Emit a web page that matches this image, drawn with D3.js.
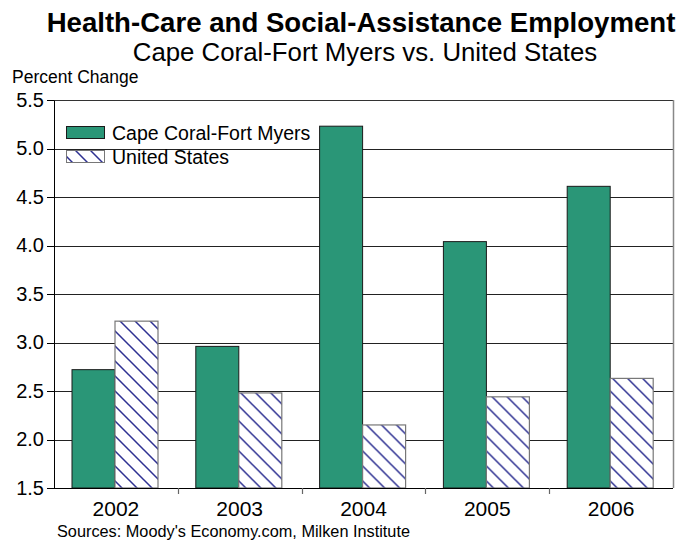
<!DOCTYPE html>
<html>
<head>
<meta charset="utf-8">
<script src="https://cdn.jsdelivr.net/npm/d3@7"></script>
<style>
  html, body { margin: 0; padding: 0; background: #fff; }
  svg { display: block; font-family: "Liberation Sans", Arial, sans-serif; }
</style>
</head>
<body>
<svg id="chart" width="678" height="541"></svg>
<script>
// Annual percent change in health-care and social-assistance employment
const years = ["2002", "2003", "2004", "2005", "2006"];
const capeCoral = [2.72, 2.96, 5.23, 4.04, 4.61];
const unitedStates = [3.22, 2.48, 2.15, 2.44, 2.63];
const seriesNames = ["Cape Coral-Fort Myers", "United States"];
const yTicks = [1.5, 2.0, 2.5, 3.0, 3.5, 4.0, 4.5, 5.0, 5.5];

const svg = d3.select("#chart");
const margin = { left: 54, right: 5, top: 100, bottom: 53 };
const W = 678, H = 541;

const x0 = d3.scaleBand().domain(years).range([margin.left, W - margin.right]).padding(0);
// two bars side by side, centred in each year's band
const x1 = d3.scaleBand().domain(seriesNames).range([18, 18 + 86]).padding(0);
const y = d3.scaleLinear().domain([1.5, 5.5]).range([H - margin.bottom, margin.top]);

// Diagonal hatch pattern for the national series
const defs = svg.append("defs");
const pat = defs.append("pattern")
  .attr("id", "hatch").attr("patternUnits", "userSpaceOnUse")
  .attr("width", 15).attr("height", 15);
pat.append("rect").attr("width", 15).attr("height", 15).attr("fill", "#fff");
pat.append("path")
  .attr("d", "M-4,-4 L19,19 M11,-4 L19,4 M-4,11 L4,19")
  .attr("stroke", "#2e3192").attr("stroke-width", 1.5).attr("fill", "none");

// Title block
svg.append("text").attr("x", 361).attr("y", 32).attr("text-anchor", "middle")
  .attr("font-size", 27.6).attr("font-weight", "bold").attr("fill", "#000")
  .text("Health-Care and Social-Assistance Employment");
svg.append("text").attr("x", 365).attr("y", 61).attr("text-anchor", "middle")
  .attr("font-size", 25.8).attr("fill", "#000")
  .text("Cape Coral-Fort Myers vs. United States");
svg.append("text").attr("x", 12).attr("y", 83).attr("font-size", 17.5).attr("fill", "#000")
  .text("Percent Change");

// Horizontal gridlines
svg.append("g").selectAll("line").data(yTicks.slice(1, -1)).join("line")
  .attr("x1", margin.left).attr("x2", W - margin.right)
  .attr("y1", d => Math.round(y(d)) + 0.5).attr("y2", d => Math.round(y(d)) + 0.5)
  .attr("stroke", "#222").attr("stroke-width", 1);

// Plot frame: top and right
svg.append("line").attr("x1", margin.left).attr("x2", W - margin.right)
  .attr("y1", margin.top + 0.5).attr("y2", margin.top + 0.5).attr("stroke", "#333");
svg.append("line").attr("x1", W - margin.right + 0.5).attr("x2", W - margin.right + 0.5)
  .attr("y1", margin.top).attr("y2", H - margin.bottom).attr("stroke", "#888").attr("stroke-width", 1.5);

// Bars
const groups = svg.append("g").selectAll("g").data(years).join("g")
  .attr("transform", d => `translate(${x0(d)},0)`);
groups.append("rect")
  .attr("x", x1(seriesNames[0])).attr("width", x1.bandwidth())
  .attr("y", (d, i) => y(capeCoral[i])).attr("height", (d, i) => y(1.5) - y(capeCoral[i]))
  .attr("fill", "#2a9677").attr("stroke", "#1a1a1a").attr("stroke-width", 1);
groups.append("rect")
  .attr("x", x1(seriesNames[1])).attr("width", x1.bandwidth())
  .attr("y", (d, i) => y(unitedStates[i])).attr("height", (d, i) => y(1.5) - y(unitedStates[i]))
  .attr("fill", "url(#hatch)").attr("stroke", "#777").attr("stroke-width", 1.2);

// Y axis
const yAxis = svg.append("g").attr("transform", `translate(${margin.left},0)`)
  .call(d3.axisLeft(y).tickValues(yTicks).tickFormat(d3.format(".1f")).tickSize(0).tickPadding(10));
yAxis.select(".domain").attr("stroke", "#000");
yAxis.selectAll("text").attr("font-size", 20).attr("fill", "#000")
  .attr("font-family", "Liberation Sans, Arial, sans-serif");
yAxis.selectAll(".tick line").remove();
svg.append("g").selectAll("line").data(yTicks).join("line")
  .attr("x1", margin.left - 7).attr("x2", margin.left)
  .attr("y1", d => Math.round(y(d)) + 0.5).attr("y2", d => Math.round(y(d)) + 0.5)
  .attr("stroke", "#000");

// X axis with ticks at category boundaries
svg.append("line").attr("x1", margin.left).attr("x2", W - margin.right)
  .attr("y1", y(1.5) + 0.5).attr("y2", y(1.5) + 0.5).attr("stroke", "#000");
const bounds = years.slice(1).map(d => x0(d));
svg.append("g").selectAll("line").data(bounds).join("line")
  .attr("x1", d => Math.round(d) + 0.5).attr("x2", d => Math.round(d) + 0.5)
  .attr("y1", y(1.5)).attr("y2", y(1.5) + 6).attr("stroke", "#666").attr("stroke-width", 1.2);
svg.append("g").selectAll("text").data(years).join("text")
  .attr("x", d => x0(d) + x0.bandwidth() / 2).attr("y", 516)
  .attr("text-anchor", "middle").attr("font-size", 21).attr("fill", "#000")
  .text(d => d);

// Legend
const legend = svg.append("g");
legend.append("rect").attr("x", 66.5).attr("y", 126.5).attr("width", 38).attr("height", 12)
  .attr("fill", "#2a9677").attr("stroke", "#1a1a1a");
legend.append("rect").attr("x", 66.5).attr("y", 150.5).attr("width", 38).attr("height", 12)
  .attr("fill", "url(#hatch)").attr("stroke", "#777");
legend.append("text").attr("x", 112).attr("y", 140).attr("font-size", 19.5).attr("fill", "#000")
  .text(seriesNames[0]);
legend.append("text").attr("x", 112).attr("y", 164).attr("font-size", 19.5).attr("fill", "#000")
  .text(seriesNames[1]);

// Source note
svg.append("text").attr("x", 57).attr("y", 537).attr("font-size", 16.3).attr("fill", "#000")
  .text("Sources: Moody's Economy.com, Milken Institute");
</script>
</body>
</html>
